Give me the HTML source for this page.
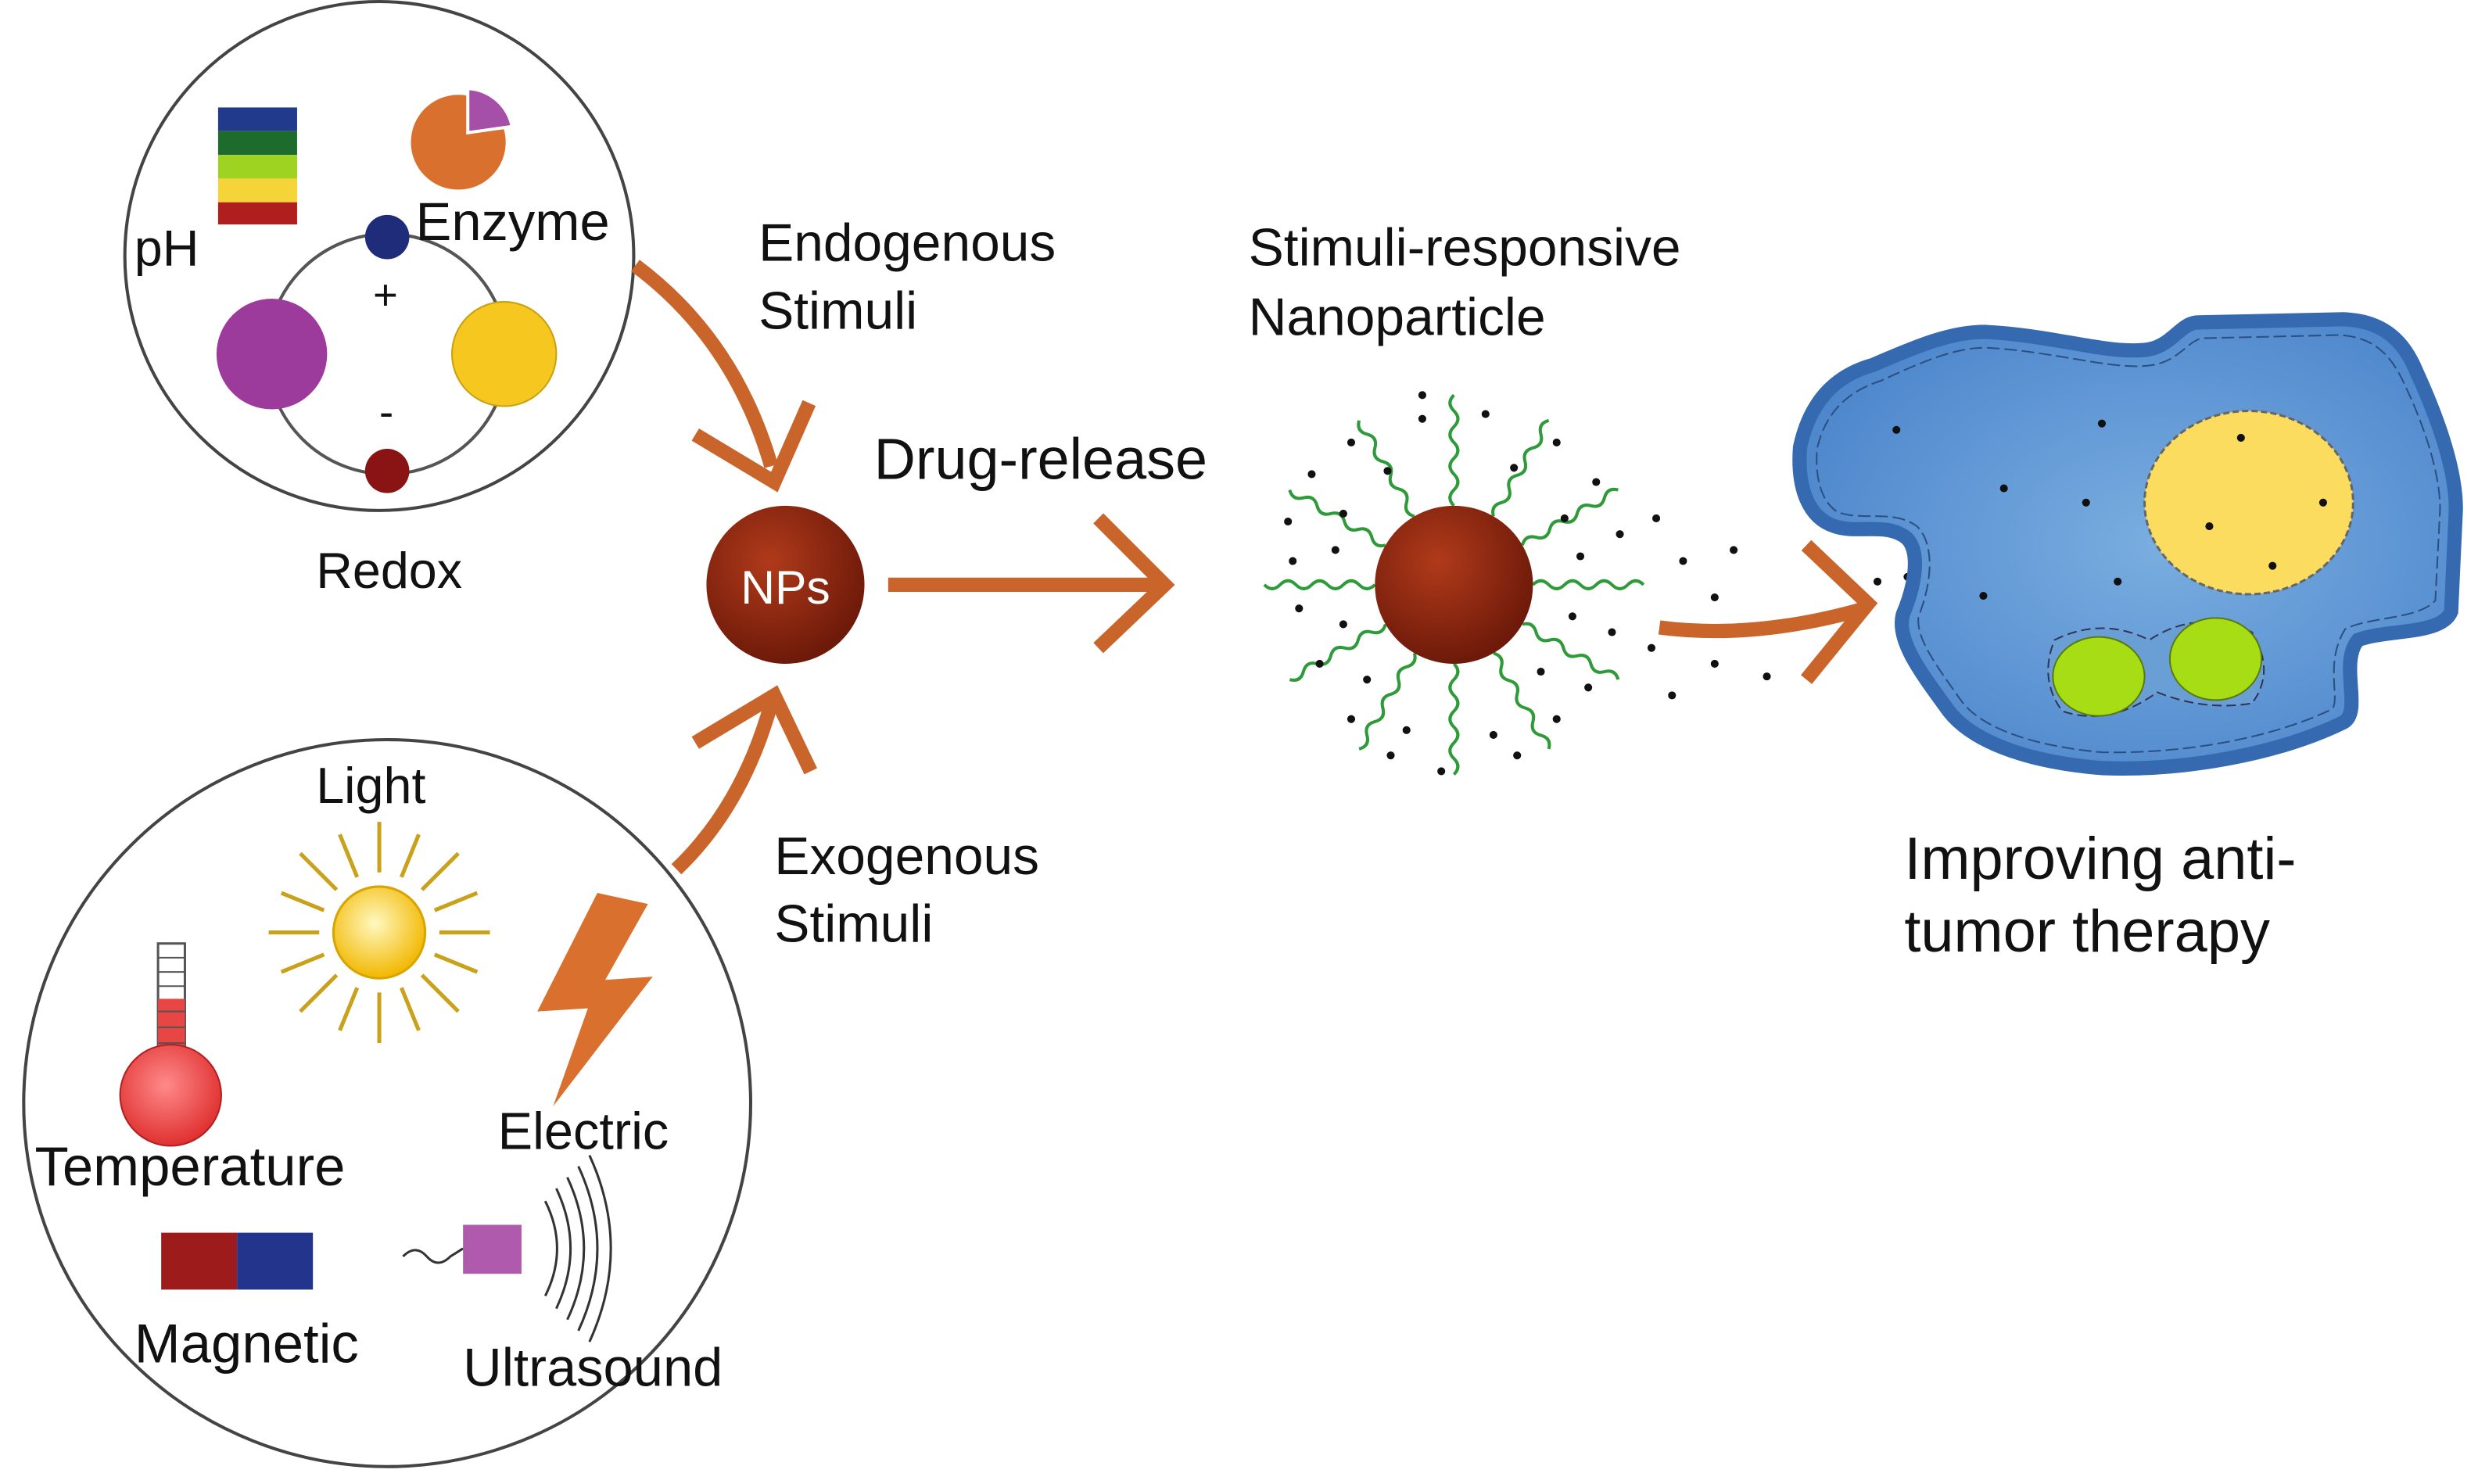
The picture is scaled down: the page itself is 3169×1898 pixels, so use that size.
<!DOCTYPE html>
<html><head><meta charset="utf-8"><style>
html,body{margin:0;padding:0;background:#fff;}
svg{display:block;}
text{font-family:"Liberation Sans",Arial,sans-serif;fill:#111;}
</style></head><body>
<svg width="3169" height="1898" viewBox="0 0 1568 939" preserveAspectRatio="none" xmlns="http://www.w3.org/2000/svg">
<defs>
<radialGradient id="np" cx="40%" cy="35%" r="65%"><stop offset="0" stop-color="#b03a1a"/><stop offset="1" stop-color="#6e1a0a"/></radialGradient>
<radialGradient id="sun" cx="45%" cy="40%" r="60%"><stop offset="0" stop-color="#fff8c0"/><stop offset="1" stop-color="#f2b800"/></radialGradient>
<radialGradient id="bulb" cx="45%" cy="40%" r="60%"><stop offset="0" stop-color="#ff8a8a"/><stop offset="1" stop-color="#e03030"/></radialGradient>
<radialGradient id="cell" cx="55%" cy="50%" r="60%"><stop offset="0" stop-color="#7aaee0"/><stop offset="1" stop-color="#4d86cc"/></radialGradient>
</defs>

<circle cx="240" cy="162" r="161" fill="none" stroke="#444" stroke-width="2"/>
<rect x="138" y="68" width="50" height="15" fill="#223a8c"/>
<rect x="138" y="83" width="50" height="15" fill="#1e6b2e"/>
<rect x="138" y="98" width="50" height="15" fill="#9fd321"/>
<rect x="138" y="113" width="50" height="15" fill="#f5d43a"/>
<rect x="138" y="128" width="50" height="14" fill="#b01e1e"/>
<circle cx="290" cy="90" r="30" fill="#d9702d"/>
<path d="M296,84 L296,56 A30,30 0 0 1 324,80 Z" fill="#a64fa8" stroke="#fff" stroke-width="2"/>
<circle cx="245" cy="224" r="76" fill="none" stroke="#555" stroke-width="2"/>
<circle cx="172" cy="224" r="35" fill="#9c3b9c"/>
<circle cx="319" cy="224" r="33" fill="#f5c71f" stroke="#caa010" stroke-width="1"/>
<circle cx="245" cy="150" r="14" fill="#1f2c7a"/>
<circle cx="245" cy="298" r="14" fill="#8a1414"/>
<text x="85" y="168" font-size="32">pH</text>
<text x="263" y="152" font-size="34">Enzyme</text>
<text x="236" y="196" font-size="27">+</text>
<text x="240" y="270" font-size="27">-</text>
<text x="200" y="372" font-size="32">Redox</text>

<g stroke="#c9652b" stroke-width="9" fill="none" stroke-linecap="butt">
<path d="M402,168 Q465,215 488,295"/>
<path d="M440,275 L490,305 L512,255"/>
<path d="M562,370 L735,370"/>
<path d="M695,328 L737,370 L695,410"/>
<path d="M428,550 Q470,510 488,445"/>
<path d="M440,470 L490,440 L513,488"/>
<path d="M1050,397 Q1110,405 1180,385"/>
<path d="M1143,345 L1182,382 L1143,430"/>
</g>

<text x="480" y="165" font-size="33.5">Endogenous</text>
<text x="480" y="208" font-size="33.5">Stimuli</text>
<text x="553" y="303" font-size="36.5">Drug-release</text>
<text x="490" y="553" font-size="33.5">Exogenous</text>
<text x="490" y="596" font-size="33.5">Stimuli</text>

<circle cx="497" cy="370" r="50" fill="url(#np)"/>
<text x="497" y="382" font-size="30" text-anchor="middle" style="fill:#fff">NPs</text>

<text x="790" y="168" font-size="33.5">Stimuli-responsive</text>
<text x="790" y="212" font-size="33.5">Nanoparticle</text>
<g stroke="#2f9a3a" stroke-width="2" fill="none">
<g id="w"><path d="M970,370 q5,-5 10,0 t10,0 t10,0 t10,0 t10,0 t10,0 t10,0"/></g>
<use href="#w" transform="rotate(30 920 370)"/><use href="#w" transform="rotate(60 920 370)"/>
<use href="#w" transform="rotate(90 920 370)"/><use href="#w" transform="rotate(120 920 370)"/>
<use href="#w" transform="rotate(150 920 370)"/><use href="#w" transform="rotate(180 920 370)"/>
<use href="#w" transform="rotate(210 920 370)"/><use href="#w" transform="rotate(240 920 370)"/>
<use href="#w" transform="rotate(270 920 370)"/><use href="#w" transform="rotate(300 920 370)"/>
<use href="#w" transform="rotate(330 920 370)"/>
</g>
<g fill="#111">
<circle cx="855" cy="280" r="2.5"/><circle cx="900" cy="265" r="2.5"/><circle cx="940" cy="262" r="2.5"/><circle cx="985" cy="280" r="2.5"/>
<circle cx="830" cy="300" r="2.5"/><circle cx="878" cy="298" r="2.5"/><circle cx="958" cy="296" r="2.5"/><circle cx="1010" cy="305" r="2.5"/>
<circle cx="815" cy="330" r="2.5"/><circle cx="850" cy="325" r="2.5"/><circle cx="990" cy="328" r="2.5"/><circle cx="1025" cy="338" r="2.5"/>
<circle cx="818" cy="355" r="2.5"/><circle cx="845" cy="348" r="2.5"/><circle cx="1000" cy="352" r="2.5"/>
<circle cx="822" cy="385" r="2.5"/><circle cx="850" cy="395" r="2.5"/><circle cx="995" cy="390" r="2.5"/><circle cx="1020" cy="400" r="2.5"/>
<circle cx="835" cy="420" r="2.5"/><circle cx="865" cy="430" r="2.5"/><circle cx="975" cy="425" r="2.5"/><circle cx="1005" cy="435" r="2.5"/>
<circle cx="855" cy="455" r="2.5"/><circle cx="890" cy="462" r="2.5"/><circle cx="945" cy="465" r="2.5"/><circle cx="985" cy="455" r="2.5"/>
<circle cx="880" cy="478" r="2.5"/><circle cx="912" cy="488" r="2.5"/><circle cx="960" cy="478" r="2.5"/><circle cx="900" cy="250" r="2.5"/>
<circle cx="1048" cy="328" r="2.5"/><circle cx="1065" cy="355" r="2.5"/><circle cx="1097" cy="348" r="2.5"/><circle cx="1085" cy="378" r="2.5"/>
<circle cx="1045" cy="410" r="2.5"/><circle cx="1085" cy="420" r="2.5"/><circle cx="1118" cy="428" r="2.5"/><circle cx="1058" cy="440" r="2.5"/>
<circle cx="1188" cy="368" r="2.5"/><circle cx="1207" cy="365" r="2.5"/>
</g>
<circle cx="920" cy="370" r="50" fill="url(#np)"/>

<path d="M1139,283 C1145,255 1160,238 1185,231 C1215,218 1235,210 1256,210 C1300,212 1335,225 1360,221 C1375,218 1380,204 1391,204 L1483,202 C1510,203 1522,218 1529,235 C1545,270 1554,300 1554,322 L1551,387 C1545,402 1510,398 1492,405 C1480,420 1495,450 1483,457 C1440,478 1380,488 1330,486 C1280,482 1245,468 1231,447 C1215,425 1200,405 1204,389 C1212,370 1215,350 1207,341 C1195,330 1175,338 1161,333 C1145,328 1137,310 1139,283 Z" fill="url(#cell)" stroke="#3569b0" stroke-width="9"/>
<path d="M1150,283 C1155,262 1168,248 1190,241 C1218,228 1238,220 1256,220 C1300,222 1338,235 1362,231 C1380,228 1385,214 1395,214 L1480,212 C1503,213 1513,226 1520,240 C1536,273 1544,302 1544,322 L1541,380 C1530,392 1500,390 1484,398 C1470,420 1482,445 1475,449 C1435,468 1380,477 1330,476 C1285,472 1252,460 1240,442 C1226,422 1212,404 1214,390 C1222,370 1225,345 1213,333 C1198,322 1178,330 1163,324 C1152,318 1148,300 1150,283 Z" fill="none" stroke="#2b4f80" stroke-width="1" stroke-dasharray="8 3"/>
<ellipse cx="1423" cy="318" rx="66" ry="58" fill="#fbdc5e" stroke="#666" stroke-width="1.5" stroke-dasharray="4 2"/>
<path d="M1300,405 Q1330,390 1360,405 Q1390,385 1425,400 Q1440,425 1425,445 Q1395,450 1365,438 Q1335,460 1305,450 Q1290,430 1300,405Z" fill="#6a9fd6" stroke="#335" stroke-width="1" stroke-dasharray="6 3"/>
<ellipse cx="1328" cy="428" rx="29" ry="25" fill="#a6dd14" stroke="#5a7a10" stroke-width="1"/>
<ellipse cx="1402" cy="417" rx="29" ry="26" fill="#a6dd14" stroke="#5a7a10" stroke-width="1"/>
<g fill="#111">
<circle cx="1200" cy="272" r="2.5"/><circle cx="1330" cy="268" r="2.5"/><circle cx="1268" cy="309" r="2.5"/><circle cx="1320" cy="318" r="2.5"/>
<circle cx="1255" cy="377" r="2.5"/><circle cx="1340" cy="368" r="2.5"/><circle cx="1418" cy="277" r="2.5"/><circle cx="1470" cy="318" r="2.5"/>
<circle cx="1398" cy="333" r="2.5"/><circle cx="1438" cy="358" r="2.5"/>
</g>
<text x="1205" y="556" font-size="37.5">Improving anti-</text>
<text x="1205" y="602" font-size="37.5">tumor therapy</text>

<circle cx="245" cy="698" r="230" fill="none" stroke="#444" stroke-width="2"/>
<text x="200" y="508" font-size="32">Light</text>
<g stroke="#c9a11a" stroke-width="2.5">
<line x1="240" y1="520" x2="240" y2="552"/><line x1="240" y1="628" x2="240" y2="660"/>
<line x1="170" y1="590" x2="202" y2="590"/><line x1="278" y1="590" x2="310" y2="590"/>
<line x1="190" y1="540" x2="213" y2="563"/><line x1="267" y1="617" x2="290" y2="640"/>
<line x1="290" y1="540" x2="267" y2="563"/><line x1="213" y1="617" x2="190" y2="640"/>
<line x1="215" y1="528" x2="226" y2="555"/><line x1="254" y1="625" x2="265" y2="652"/>
<line x1="265" y1="528" x2="254" y2="555"/><line x1="226" y1="625" x2="215" y2="652"/>
<line x1="178" y1="565" x2="205" y2="576"/><line x1="275" y1="604" x2="302" y2="615"/>
<line x1="302" y1="565" x2="275" y2="576"/><line x1="205" y1="604" x2="178" y2="615"/>
</g>
<circle cx="240" cy="590" r="29" fill="url(#sun)" stroke="#d9a400" stroke-width="1.5"/>
<rect x="100" y="597" width="17" height="90" fill="#fff" stroke="#555" stroke-width="1.5"/>
<rect x="100" y="632" width="17" height="55" fill="#e84545"/>
<g stroke="#555" stroke-width="1"><line x1="100" y1="606" x2="117" y2="606"/><line x1="100" y1="615" x2="117" y2="615"/><line x1="100" y1="624" x2="117" y2="624"/><line x1="100" y1="640" x2="117" y2="640"/><line x1="100" y1="650" x2="117" y2="650"/><line x1="100" y1="660" x2="117" y2="660"/><line x1="100" y1="670" x2="117" y2="670"/></g>
<circle cx="108" cy="693" r="32" fill="url(#bulb)" stroke="#b02020" stroke-width="1"/>
<text x="22" y="750" font-size="35">Temperature</text>
<path d="M378,565 L340,640 L372,638 L350,700 L413,618 L383,620 L410,572 Z" fill="#d9702d"/>
<text x="315" y="727" font-size="33">Electric</text>
<rect x="102" y="780" width="48" height="36" fill="#9e1b1b"/>
<rect x="150" y="780" width="48" height="36" fill="#23348c"/>
<text x="85" y="862" font-size="35">Magnetic</text>
<path d="M255,795 q8,-8 15,0 t15,0 l8,-5" fill="none" stroke="#333" stroke-width="1.5"/>
<rect x="293" y="775" width="37" height="31" fill="#b05aad"/>
<g fill="none" stroke="#333" stroke-width="1.5">
<path d="M345,760 Q360,790 345,820"/><path d="M352,752 Q370,790 352,828"/><path d="M359,745 Q380,790 359,835"/><path d="M366,738 Q390,790 366,842"/><path d="M373,731 Q400,790 373,849"/>
</g>
<text x="293" y="877" font-size="34">Ultrasound</text>
</svg>
</body></html>
